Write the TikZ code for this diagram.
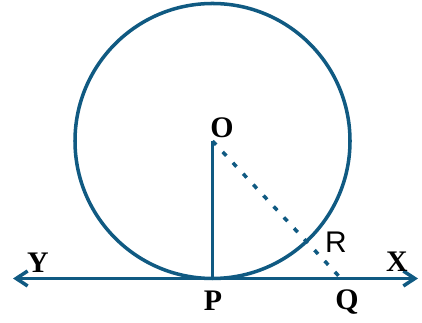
\documentclass[tikz,border=0pt]{standalone}
\usepackage{fontspec}
\setmainfont{Liberation Serif}
\setsansfont{Liberation Sans}
\usepackage{tikz}
\usetikzlibrary{arrows.meta,calc}
\definecolor{tangentBlue}{RGB}{16,90,130}
\tikzset{
  geo/.style={draw=tangentBlue, line width=2pt},
  ptlabel/.style={font=\bfseries\fontsize{17}{18}\selectfont, inner sep=0pt}
}

\begin{document}
\begin{tikzpicture}[x=0.02cm,y=0.02cm]
  \useasboundingbox (0,0) rectangle (422,323);
  % points of the figure
  \coordinate (O) at (212.5,182);
  \coordinate (P) at (212.5,44.5);
  \coordinate (Q) at (341,44.5);
  \coordinate (Yend) at (13,44.5);
  \coordinate (Xend) at (418,44.5);
  % circle, tangent, radius and secant
  \draw[geo] (O) circle (137.5);
  \draw[geo, {Straight Barb[length=6.5pt,width=8.5pt]}-{Straight Barb[length=6.5pt,width=8.5pt]}] (Yend) -- (Xend);
  \draw[geo] (O) -- (P);
  \draw[geo, dash pattern=on 3pt off 5.5pt] (O) -- (Q);
  % labels
  \node[ptlabel] (labO) at (222,195) {O};
  \node[ptlabel] (labP) at (213,22) {P};
  \node[ptlabel] (labQ) at (347,21) {Q};
  \node[ptlabel] (labY) at (38,60) {Y};
  \node[ptlabel] (labX) at (397,61) {X};
  \node[font=\sffamily\fontsize{17}{18}\selectfont, inner sep=0pt] (labR) at (336,81) {R};
\end{tikzpicture}
\end{document}
